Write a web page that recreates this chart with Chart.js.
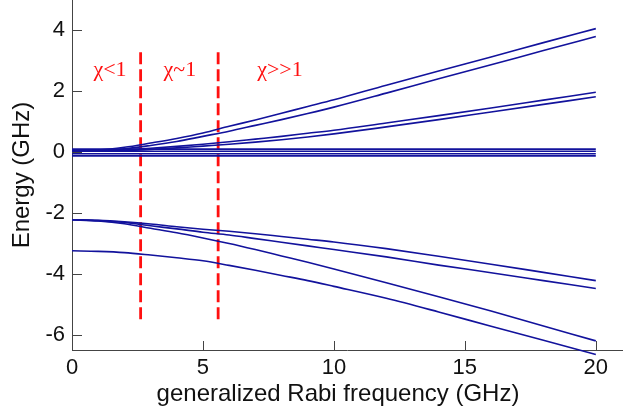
<!DOCTYPE html>
<html>
<head>
<meta charset="utf-8">
<script src="https://cdn.jsdelivr.net/npm/chart.js@4/dist/chart.umd.min.js"></script>
<style>
html,body{margin:0;padding:0;background:#fff;}
#wrap{width:624px;height:414px;}
</style>
</head>
<body>
<div id="wrap"><canvas id="c" width="624" height="414"></canvas></div>
<script>
// ---- data ----
const xs = [0,1,2,3,4,5,6,7,8,9,10,12,14,16,18,20];
const upper1 = [0.05,0.07,0.16,0.30,0.45,0.63,0.85,1.06,1.28,1.50,1.72,2.20,2.67,3.13,3.60,4.06];
const upper2 = [0.04,0.05,0.11,0.22,0.35,0.52,0.69,0.88,1.07,1.27,1.48,1.94,2.41,2.87,3.34,3.80];
const middle1 = [0.05,0.05,0.08,0.13,0.19,0.26,0.34,0.43,0.52,0.62,0.72,0.96,1.20,1.45,1.71,1.97];
const middle2 = [0.03,0.03,0.05,0.09,0.14,0.20,0.26,0.33,0.41,0.50,0.60,0.83,1.07,1.32,1.57,1.82];
const flat1 = [0.10,0.10,0.10,0.10,0.10,0.10,0.10,0.10,0.10,0.10,0.10,0.10,0.10,0.10,0.10,0.10];
const flat2 = [0.03,0.03,0.03,0.03,0.03,0.03,0.03,0.03,0.03,0.03,0.03,0.03,0.03,0.03,0.03,0.03];
const flat3 = [-0.05,-0.05,-0.05,-0.05,-0.05,-0.05,-0.05,-0.05,-0.05,-0.05,-0.05,-0.05,-0.05,-0.05,-0.05,-0.05];
const flat4 = [-0.12,-0.12,-0.12,-0.12,-0.12,-0.12,-0.12,-0.12,-0.12,-0.12,-0.12,-0.12,-0.12,-0.12,-0.12,-0.12];
const lower1 = [-2.22,-2.24,-2.29,-2.36,-2.45,-2.53,-2.60,-2.68,-2.77,-2.86,-2.95,-3.17,-3.42,-3.68,-3.95,-4.22];
const lower2 = [-2.22,-2.25,-2.31,-2.42,-2.52,-2.63,-2.72,-2.84,-2.96,-3.08,-3.20,-3.44,-3.71,-3.96,-4.22,-4.48];
const lower3 = [-2.22,-2.26,-2.35,-2.50,-2.65,-2.82,-3.00,-3.20,-3.41,-3.62,-3.84,-4.29,-4.75,-5.22,-5.71,-6.20];
const lower4 = [-3.24,-3.26,-3.30,-3.38,-3.47,-3.57,-3.72,-3.88,-4.05,-4.22,-4.41,-4.80,-5.25,-5.72,-6.18,-6.65];
const regionBounds = [2.62, 5.58];
const regionSpan = [3.28, -5.6];
const regionLabels = ['\u03C7<1', '\u03C7~1', '\u03C7>>1'];
const regionLabelX = [1.45, 4.12, 7.94];
const regionLabelY = 2.7;
const xTicks = [0,5,10,15,20];
const yTicks = [-6,-4,-2,0,2,4];
const xTitle = 'generalized Rabi frequency (GHz)';
const yTitle = 'Energy (GHz)';

const series = [upper1, upper2, middle1, middle2, flat1, flat2, flat3, flat4, lower1, lower2, lower3, lower4];
const BLUE = '#12129c';
const SANS = '"Liberation Sans", Arial, sans-serif';
const datasets = series.map(s => ({
  data: xs.map((x,i) => ({x: x, y: s[i]})),
  borderColor: BLUE,
  borderWidth: 1.6,
  pointRadius: 0,
  cubicInterpolationMode: 'monotone',
  clip: false
}));
regionBounds.forEach(b => {
  datasets.push({
    data: [{x: b, y: regionSpan[0]}, {x: b, y: regionSpan[1]}],
    borderColor: '#ff1010',
    borderWidth: 2.8,
    borderDash: [12, 5],
    pointRadius: 0,
    clip: false
  });
});

const decor = {
  id: 'decor',
  afterDraw(chart) {
    const ctx = chart.ctx;
    const xs_ = chart.scales.x, ys_ = chart.scales.y;
    const a = chart.chartArea;
    ctx.save();
    ctx.strokeStyle = '#444';
    ctx.lineWidth = 1;
    xTicks.forEach(v => {
      const px = Math.round(xs_.getPixelForValue(v)) + 0.5;
      ctx.beginPath(); ctx.moveTo(px, a.bottom); ctx.lineTo(px, a.bottom - 9); ctx.stroke();
    });
    yTicks.forEach(v => {
      const py = Math.round(ys_.getPixelForValue(v)) + 0.5;
      ctx.beginPath(); ctx.moveTo(a.left, py); ctx.lineTo(a.left + 10, py); ctx.stroke();
    });
    // x axis title
    ctx.fillStyle = '#111';
    ctx.font = '24px ' + SANS;
    ctx.textAlign = 'center';
    ctx.textBaseline = 'middle';
    ctx.fillText(xTitle, (a.left + a.right) / 2 - 9, a.bottom + 44);
    // region labels
    ctx.fillStyle = '#ff1010';
    ctx.font = '22px "Liberation Serif", "Times New Roman", serif';
    regionLabels.forEach((t, i) => {
      ctx.fillText(t, xs_.getPixelForValue(regionLabelX[i]), ys_.getPixelForValue(regionLabelY));
    });
    ctx.restore();
  }
};

new Chart(document.getElementById('c'), {
  type: 'line',
  data: { datasets },
  plugins: [decor],
  options: {
    responsive: false,
    animation: false,
    layout: { padding: { left: 0, right: 2, top: 0, bottom: 0 } },
    plugins: { legend: { display: false }, tooltip: { enabled: false } },
    scales: {
      x: {
        type: 'linear', min: 0, max: 21,
        afterBuildTicks: s => { s.ticks = xTicks.map(v => ({value: v})); },
        afterFit: s => { s.height = 64; s.paddingLeft = 0; s.paddingRight = 0; },
        grid: { display: false, drawTicks: false },
        border: { display: true, color: '#444', width: 1 },
        ticks: { color: '#111', font: { family: SANS, size: 22 }, padding: 5, maxRotation: 0 },
        title: { display: false }
      },
      y: {
        type: 'linear', min: -6.5, max: 5,
        afterBuildTicks: s => { s.ticks = yTicks.map(v => ({value: v})); },
        afterFit: s => { s.width = 72; s.paddingTop = 0; s.paddingBottom = 0; },
        grid: { display: false, drawTicks: false },
        border: { display: true, color: '#444', width: 1 },
        ticks: { color: '#111', font: { family: SANS, size: 22 }, padding: 7 },
        title: { display: true, text: yTitle, color: '#111',
                 font: { family: SANS, size: 24 }, padding: { top: 8, bottom: 0 } }
      }
    }
  }
});
</script>
</body>
</html>
